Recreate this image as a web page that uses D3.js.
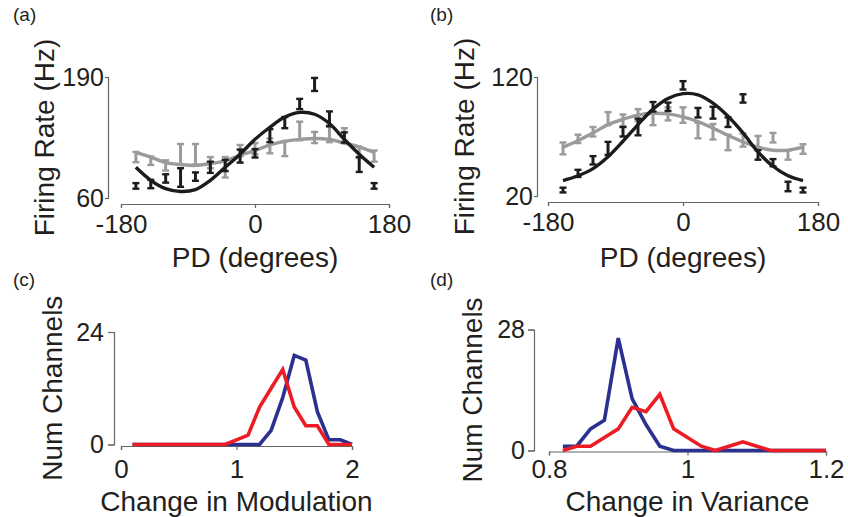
<!DOCTYPE html>
<html>
<head>
<meta charset="utf-8">
<script src="https://cdn.jsdelivr.net/npm/d3@7"></script>
<style>
  body { margin: 0; background: #fff; }
  svg { display: block; font-family: "Liberation Sans", Arial, Helvetica, sans-serif; }
</style>
</head>
<body>
<svg id="fig" width="848" height="517"></svg>
<script>
"use strict";

// preferred directions (degrees) used in panels a and b
let directions = [-160, -140, -120, -100, -80, -60, -40, -20, 0, 20, 40, 60, 80, 100, 120, 140, 160];

// panel a: firing rate per direction, two conditions, plus fitted tuning curves
let aBlackRate = [73, 75, 81, 82, 83, 93, 95, 105, 108, 127, 141, 161, 182, 145, 125, 96, 73];
let aBlackErr = [3, 4.5, 4.5, 10, 4.5, 6, 6, 7, 4.5, 7, 6, 5.5, 7, 8, 5.5, 8, 3];
let aGrayRate = [104, 100, 95, 107, 107, 98, 93, 111, 113, 116, 113, 132, 125, 129, 127, 109, 105];
let aGrayErr = [5.5, 4.5, 5.5, 11, 11, 6, 11, 6, 6, 8, 8, 10, 6, 9, 8, 6, 6];
let aBlackFit = [93, 79, 70, 67, 69, 79, 93, 107, 123, 136, 147, 152, 150, 140, 123, 107, 93];
let aGrayFit = [109, 104, 98, 96, 95, 97, 100, 106, 111, 117, 121, 123, 124, 123, 119, 115, 109];

// panel b
let bBlackRate = [25, 39, 50, 60, 74, 78, 95, 95, 113, 90, 90, 82, 102, 54.5, 48, 28, 25];
let bBlackErr = [2, 3, 3.5, 5.5, 4, 7, 4, 3.5, 3.5, 4, 5, 4, 3.5, 4, 3, 4, 2];
let bGrayRate = [60, 68, 74, 85, 83.5, 88, 85, 89, 88, 75, 74, 65, 67, 65.5, 69, 54.5, 59.5];
let bGrayErr = [5, 3.5, 4, 5.5, 5, 5, 5.5, 5.5, 6.5, 6.5, 6.5, 6.5, 5.5, 5, 4, 4, 4];
let bBlackFit = [33, 37, 43, 53, 66, 80, 93, 102, 106, 105, 98, 87, 73, 57, 45, 37, 33];
let bGrayFit = [61, 66.5, 73, 80, 84.5, 88, 89.5, 89, 86.5, 82.5, 77, 71, 65.5, 61, 58.5, 58.5, 61];

// panel c: histogram of change in modulation
let cBins = [0.1, 0.2, 0.3, 0.4, 0.5, 0.6, 0.7, 0.8, 0.9, 1.0, 1.1, 1.2, 1.3, 1.4, 1.5, 1.6, 1.7, 1.8, 1.9, 2.0];
let cBlue = [0, 0, 0, 0, 0, 0, 0, 0, 0, 0, 0, 0, 3, 10, 19, 18, 7, 1, 1, 0];
let cRed = [0, 0, 0, 0, 0, 0, 0, 0, 0, 1, 2, 8, 12, 16, 8, 4, 4, 0, 0, 0];

// panel d: histogram of change in variance
let dBins = [0.82, 0.84, 0.86, 0.88, 0.90, 0.92, 0.94, 0.96, 0.98, 1.00, 1.02, 1.04, 1.06, 1.08, 1.10, 1.12, 1.14, 1.16, 1.18, 1.20];
let dBlue = [1, 1, 5, 7, 26, 12, 6, 1, 0, 0, 0, 0, 0, 0, 0, 0, 0, 0, 0, 0];
let dRed = [0, 1, 1, 3, 5, 10, 9, 13, 5, 3, 1, 0, 1, 2, 1, 0, 0, 0, 0, 0];

// tick labels
let rateTicksA = [60, 190];
let rateTicksB = [20, 120];
let angleTicks = [-180, 0, 180];
let modTicks = [0, 1, 2];
let varTicks = [0.8, 1, 1.2];
let countTicksC = [0, 24];
let countTicksD = [0, 28];

let svg = d3.select("#fig");
svg.append("rect").attr("width", 848).attr("height", 517).attr("fill", "#fff");

let textColor = "#231f20";
let axisColor = "#666";
let black = "#1c1c1c", gray = "#9b9b9b";
let blue = "#2b3190", red = "#ec1c24";

function styleAxis(g, fontSize) {
  g.select(".domain").attr("stroke", axisColor).attr("stroke-width", 1.2);
  g.selectAll(".tick line").attr("stroke", axisColor).attr("stroke-width", 1.2);
  g.selectAll(".tick text").attr("fill", textColor).style("font-size", fontSize + "px");
}

function drawAxes(p, x, y) {
  // plain hyphen minus, as in the original figure
  let fmt = d => String(d);
  let yAxis = d3.axisLeft(y).tickValues(p.yTicks).tickFormat(fmt)
    .tickSizeOuter(0).tickSize(p.yTickSize).tickPadding(p.yTickPad);
  svg.append("g").attr("transform", `translate(${p.yAxisX},0)`).call(yAxis)
    .call(g => styleAxis(g, 25));

  let xAxis = d3.axisBottom(x).tickValues(p.xTicks).tickFormat(fmt)
    .tickSizeOuter(0).tickSize(4).tickPadding(p.xTickPad);
  svg.append("g").attr("transform", `translate(0,${p.xAxisY})`).call(xAxis)
    .call(g => styleAxis(g, 26));

  svg.append("text")
    .attr("x", (x.range()[0] + x.range()[1]) / 2).attr("y", p.xTitleY)
    .attr("text-anchor", "middle").attr("fill", textColor).style("font-size", "28px")
    .text(p.xTitle);

  svg.append("text")
    .attr("transform", `translate(${p.yTitleX},${(y.range()[0] + y.range()[1]) / 2}) rotate(-90)`)
    .attr("text-anchor", "middle").attr("fill", textColor).style("font-size", "28px")
    .text(p.yTitle);

  svg.append("text")
    .attr("x", p.labelX).attr("y", p.labelY)
    .attr("fill", textColor).style("font-size", "19px")
    .text(p.label);
}

function drawErrorBars(g, x, y, rates, errs, color) {
  let capHalf = 3.5;
  rates.forEach((v, i) => {
    let cx = x(directions[i]);
    let yTop = y(v + errs[i]), yBot = y(v - errs[i]);
    let bar = g.append("g").attr("stroke", color);
    bar.append("line").attr("x1", cx).attr("x2", cx).attr("y1", yTop).attr("y2", yBot)
      .attr("stroke-width", 3);
    bar.append("line").attr("x1", cx - capHalf).attr("x2", cx + capHalf).attr("y1", yTop).attr("y2", yTop)
      .attr("stroke-width", 2.4);
    bar.append("line").attr("x1", cx - capHalf).attr("x2", cx + capHalf).attr("y1", yBot).attr("y2", yBot)
      .attr("stroke-width", 2.4);
  });
}

function drawTuning(p) {
  let x = d3.scaleLinear().domain([-180, 180]).range(p.xRange);
  let y = d3.scaleLinear().domain(p.yTicks).range(p.yRange);
  drawAxes(p, x, y);

  let line = d3.line()
    .x((d, i) => x(directions[i]))
    .y(d => y(d))
    .curve(d3.curveCatmullRom);

  let g = svg.append("g");
  drawErrorBars(g, x, y, p.grayRate, p.grayErr, gray);
  g.append("path").datum(p.grayFit).attr("d", line)
    .attr("fill", "none").attr("stroke", gray).attr("stroke-width", 3.4);
  drawErrorBars(g, x, y, p.blackRate, p.blackErr, black);
  g.append("path").datum(p.blackFit).attr("d", line)
    .attr("fill", "none").attr("stroke", black).attr("stroke-width", 3.4);
}

function drawHistogram(p) {
  let x = d3.scaleLinear().domain([p.xTicks[0], p.xTicks[p.xTicks.length - 1]]).range(p.xRange);
  let y = d3.scaleLinear().domain(p.yTicks).range(p.yRange);
  drawAxes(p, x, y);

  let line = d3.line()
    .x((d, i) => x(p.bins[i]))
    .y(d => y(d));

  let g = svg.append("g");
  [[p.blue, blue], [p.red, red]].forEach(([series, color]) => {
    g.append("path").datum(series).attr("d", line)
      .attr("fill", "none").attr("stroke", color).attr("stroke-width", 3.6)
      .attr("stroke-linejoin", "miter");
  });
}

drawTuning({
  label: "(a)", labelX: 13, labelY: 21,
  xRange: [121, 389], yRange: [198, 77], yTicks: rateTicksA, xTicks: angleTicks,
  yAxisX: 108, xAxisY: 204, yTickSize: 3, yTickPad: 1, xTickPad: 7,
  xTitle: "PD (degrees)", xTitleY: 267, yTitle: "Firing Rate (Hz)", yTitleX: 54,
  blackRate: aBlackRate, blackErr: aBlackErr, grayRate: aGrayRate, grayErr: aGrayErr,
  blackFit: aBlackFit, grayFit: aGrayFit
});

drawTuning({
  label: "(b)", labelX: 430, labelY: 21,
  xRange: [548, 818], yRange: [196, 77], yTicks: rateTicksB, xTicks: angleTicks,
  yAxisX: 537, xAxisY: 202, yTickSize: 3, yTickPad: 1, xTickPad: 7,
  xTitle: "PD (degrees)", xTitleY: 267, yTitle: "Firing Rate (Hz)", yTitleX: 474,
  blackRate: bBlackRate, blackErr: bBlackErr, grayRate: bGrayRate, grayErr: bGrayErr,
  blackFit: bBlackFit, grayFit: bGrayFit
});

drawHistogram({
  label: "(c)", labelX: 13, labelY: 286,
  xRange: [121, 352], yRange: [444.5, 332], yTicks: countTicksC, xTicks: modTicks,
  yAxisX: 114, xAxisY: 446, yTickSize: 6, yTickPad: 4, xTickPad: 9.5,
  xTitle: "Change in Modulation", xTitleY: 511, yTitle: "Num Channels", yTitleX: 62,
  bins: cBins, blue: cBlue, red: cRed
});

drawHistogram({
  label: "(d)", labelX: 430, labelY: 286,
  xRange: [549, 826], yRange: [450.5, 329.5], yTicks: countTicksD, xTicks: varTicks,
  yAxisX: 534, xAxisY: 451.5, yTickSize: 6, yTickPad: 3, xTickPad: 4.5,
  xTitle: "Change in Variance", xTitleY: 511, yTitle: "Num Channels", yTitleX: 482,
  bins: dBins, blue: dBlue, red: dRed
});
</script>
</body>
</html>
